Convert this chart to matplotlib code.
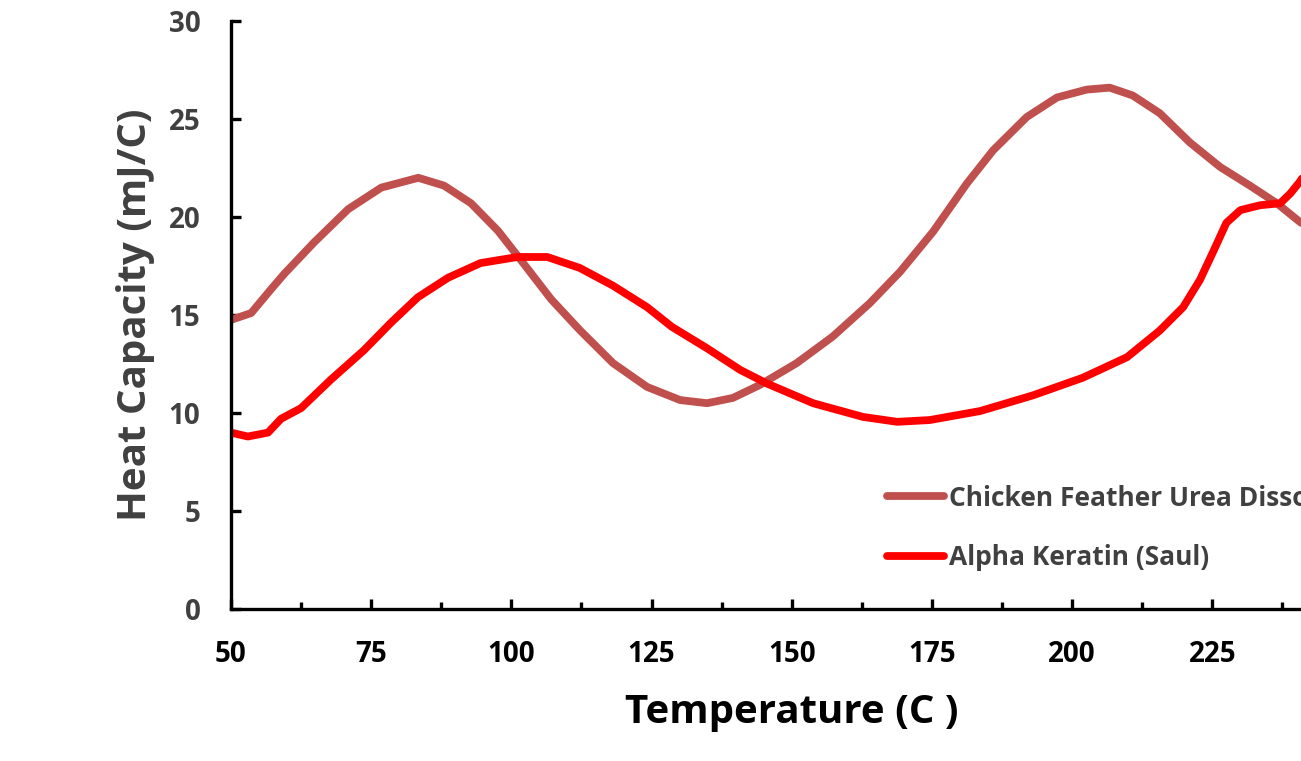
import matplotlib.pyplot as plt
import numpy as np
from matplotlib.ticker import MultipleLocator

plt.rcParams['font.family'] = ['Open Sans', 'DejaVu Sans']
plt.rcParams['font.weight'] = 'bold'

# Chicken Feather Urea Dissolved
temp_cf = [50, 53.6, 57.1, 59.5, 64.8, 70.9, 76.8, 83.4, 88.0, 92.8, 97.6, 101.7,
           107.1, 112.2, 118.1, 124.2, 130.1, 134.9, 139.5, 144.3, 150.9, 157.3,
           163.9, 169.3, 175.2, 181.2, 185.9, 191.9, 197.3, 202.6, 206.7, 210.8,
           215.6, 221, 226.4, 231.7, 236.5, 240.6, 242]
cp_cf = [14.75, 15.1, 16.3, 17.1, 18.7, 20.4, 21.5, 22.0, 21.6, 20.7, 19.3, 17.8,
         15.8, 14.23, 12.55, 11.33, 10.66, 10.5, 10.77, 11.43, 12.55, 13.9,
         15.6, 17.2, 19.25, 21.7, 23.4, 25.1, 26.1, 26.5, 26.6, 26.2,
         25.3, 23.8, 22.55, 21.6, 20.7, 19.75, 19.5]

# Alpha Keratin (Saul)
temp_ak = [50, 53.0, 56.6, 58.9, 62.5, 67.8, 73.7, 78.5, 83.3, 88.7, 94.5, 101.1,
           106.4, 112.2, 118.1, 124.2, 128.6, 134.9, 140.8, 145.6, 153.8, 162.7,
           168.8, 174.6, 183.6, 193.0, 201.9, 209.8, 215.6, 219.8, 222.8, 225.1,
           227.5, 230, 233.5, 237.1, 238.9, 240.6, 242]
cp_ak = [9.0, 8.8, 9.0, 9.7, 10.25, 11.7, 13.2, 14.6, 15.9, 16.9, 17.65, 17.96,
         17.96, 17.4, 16.5, 15.4, 14.4, 13.3, 12.2, 11.5, 10.5, 9.8,
         9.55, 9.64, 10.1, 10.9, 11.8, 12.85, 14.2, 15.4, 16.8, 18.2,
         19.7, 20.35, 20.6, 20.7, 21.2, 21.8, 22.4]

fig = plt.figure(figsize=(13.01, 7.61), dpi=100)
ax = fig.add_axes([231/1301, 1 - 609/761, 1087.9/1301, 588/761])

ax.plot(temp_cf, cp_cf, color='#C0504D', lw=5.6, solid_capstyle='round',
        solid_joinstyle='round', label='Chicken Feather Urea Dissolved')
ax.plot(temp_ak, cp_ak, color='#FF0000', lw=5.6, solid_capstyle='round',
        solid_joinstyle='round', label='Alpha Keratin (Saul)')

ax.set_xlim(50, 244)
ax.set_ylim(0, 30)
ax.xaxis.set_major_locator(MultipleLocator(25))
ax.xaxis.set_minor_locator(MultipleLocator(12.5))
ax.yaxis.set_major_locator(MultipleLocator(5))

for s in ['top', 'right']:
    ax.spines[s].set_visible(False)
for s in ['left', 'bottom']:
    ax.spines[s].set_linewidth(2.4)
    ax.spines[s].set_color('black')

ax.tick_params(axis='both', which='major', direction='in', length=7, width=2.4, labelsize=20)
ax.tick_params(axis='x', which='minor', direction='in', length=5, width=2.4)
ax.tick_params(axis='x', colors='black', pad=22)
ax.tick_params(axis='y', labelcolor='#404040', color='black', pad=22)
for lab in ax.get_xticklabels() + ax.get_yticklabels():
    lab.set_fontweight('bold')

ax.set_xlabel('Temperature (C )', fontsize=29, fontweight='bold', color='black')
ax.set_ylabel('Heat Capacity (mJ/C)', fontsize=29, fontweight='bold', color='#404040', labelpad=10)
# the original axis runs past the cropped right edge, so its title sits right of centre
ax.xaxis.set_label_coords((792 - 231) / 1087.9, -0.143, transform=ax.transAxes)
ax.xaxis.label.set_verticalalignment('top')

fig.legend(loc='center left', bbox_to_anchor=(887/1301, 1 - 528/761), frameon=False,
           handlelength=2.15, handletextpad=0.2, labelspacing=1.25,
           borderpad=0, borderaxespad=0, labelcolor='#404040',
           prop={'weight': 'bold', 'size': 19})

fig.savefig('out.png', dpi=100)
